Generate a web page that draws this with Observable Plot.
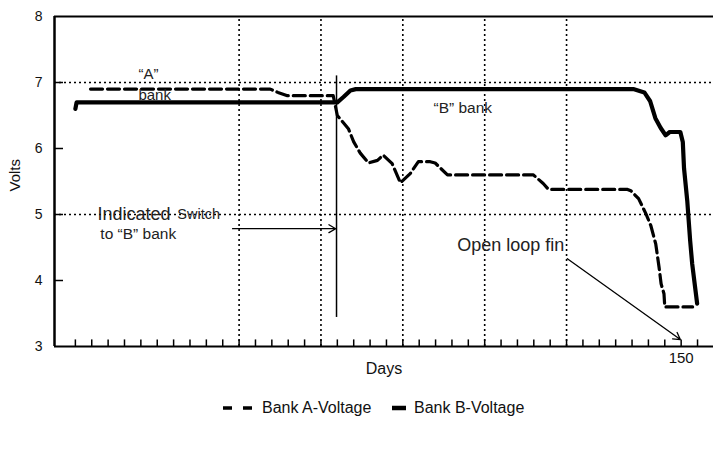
<!DOCTYPE html>
<html>
<head>
<meta charset="utf-8">
<script src="https://cdn.jsdelivr.net/npm/d3@7"></script>
<script src="https://cdn.jsdelivr.net/npm/@observablehq/plot@0.6"></script>
<style>
  html, body { margin: 0; padding: 0; background: #fff; }
  body { font-family: "Liberation Sans", Arial, sans-serif; width: 713px; }
  #legend { position: relative; height: 40px; font-size: 16px; color: #111; }
  .item { position: absolute; top: 14px; display: flex; align-items: center; }
  .item svg { margin-right: 8px; }
</style>
</head>
<body>
<div id="chart"></div>
<div id="legend">
  <div class="item" style="left:223px"><svg width="31" height="10"><line x1="0" y1="5" x2="31" y2="5" stroke="#000" stroke-width="3.5" stroke-dasharray="9,11"/></svg><span>Bank A-Voltage</span></div>
  <div class="item" style="left:392px"><svg width="14" height="10"><line x1="0" y1="5" x2="14" y2="5" stroke="#000" stroke-width="4.5"/></svg><span>Bank B-Voltage</span></div>
</div>
<script>
// Bank A (dashed) — days, volts
const daysA  = [5.7, 49.6, 51.5, 53.8, 65.0, 66.0, 68.7, 70.0, 71.6, 73.6, 75.8, 77.2, 79.4, 81.4, 83.8, 85.8, 88.7, 89.9, 92.9, 113.9, 116.3, 117.6, 136.9, 137.7, 139.6, 141.4, 142.6, 143.8, 144.6, 145.1, 145.8, 146.0, 152.8];
const voltsA = [6.9, 6.9, 6.85, 6.8, 6.8, 6.5, 6.3, 6.1, 5.93, 5.78, 5.82, 5.9, 5.77, 5.48, 5.62, 5.8, 5.8, 5.78, 5.6, 5.6, 5.47, 5.38, 5.38, 5.36, 5.24, 5.01, 4.83, 4.55, 4.2, 3.95, 3.8, 3.6, 3.6];
// Bank B (solid)
const daysB  = [2.0, 2.3, 66.0, 67.5, 69.2, 70.5, 138.3, 141.0, 142.4, 143.7, 145.0, 146.2, 147.2, 149.8, 150.4, 150.7, 151.5, 152.2, 152.7, 153.9];
const voltsB = [6.6, 6.7, 6.7, 6.78, 6.88, 6.9, 6.9, 6.85, 6.72, 6.46, 6.31, 6.2, 6.25, 6.25, 6.1, 5.7, 5.2, 4.6, 4.25, 3.65];

const xTicks = d3.range(2, 155, 4);      // minor day ticks
const xLabelled = [150];
const xGrid = [42, 62, 82, 102, 122];
const yTicks = [3, 4, 5, 6, 7, 8];
const yGrid = [5, 7];

// annotations (data coordinates)
const notes = [
  {text: "\u201CA\u201D", day: 17.4, volt: 7.13, size: 15},
  {text: "bank", day: 17.4, volt: 6.81, size: 15},
  {text: "\u201CB\u201D bank", day: 89.5, volt: 6.62, size: 15.5},
  {text: "Indicated", day: 7.4, volt: 5.01, size: 18},
  {text: "Switch", day: 26.9, volt: 5.0, size: 14.5},
  {text: "to \u201CB\u201D bank", day: 8.1, volt: 4.71, size: 15.5},
  {text: "Open loop fin", day: 95.3, volt: 4.53, size: 18}
];
const arrows = [
  {x1: 40.4, y1: 4.785, x2: 65.6, y2: 4.785},
  {x1: 122.2, y1: 4.33, x2: 149.8, y2: 3.105}
];
const switchDay = 65.8, switchTop = 7.1, switchBottom = 3.44;

const A = daysA.map((d, i) => ({day: d, volt: voltsA[i]}));
const B = daysB.map((d, i) => ({day: d, volt: voltsB[i]}));
const xDomain = [-3.1, 157.9];

const chart = Plot.plot({
  width: 713,
  height: 385,
  marginLeft: 54,
  marginRight: 0,
  marginTop: 16,
  marginBottom: 39,
  style: {fontFamily: "Liberation Sans, Arial, sans-serif", color: "#111", background: "#fff"},
  x: {domain: xDomain},
  y: {domain: [3, 8]},
  marks: [
    Plot.ruleY(yGrid, {stroke: "#000", strokeWidth: 1.6, strokeDasharray: "2,3"}),
    Plot.ruleX(xGrid, {y1: 3, y2: 8, stroke: "#000", strokeWidth: 1.6, strokeDasharray: "2,3"}),
    Plot.ruleX(xTicks, {y1: 3, y2: 3.1, stroke: "#000", strokeWidth: 1.5}),
    Plot.ruleY([4, 5, 6, 7], {x1: xDomain[0], x2: xDomain[0] + 2.2, stroke: "#000", strokeWidth: 1.5}),
    Plot.ruleY([3], {stroke: "#000", strokeWidth: 2}),
    Plot.ruleY([8], {stroke: "#000", strokeWidth: 2}),
    Plot.ruleX([xDomain[0]], {y1: 3, y2: 8, stroke: "#000", strokeWidth: 2.5}),
    Plot.axisX(xTicks, {tickSize: 0, tickPadding: 6, fontSize: 15, tickFormat: d => xLabelled.includes(d) ? String(d) : "", label: null}),
    Plot.axisY(yTicks, {tickSize: 0, tickPadding: 12, fontSize: 14, tickFormat: d => String(d), label: null}),
    Plot.text(["Volts"], {frameAnchor: "left", rotate: -90, dx: -39, dy: 10, fontSize: 15}),
    Plot.text(["Days"], {frameAnchor: "bottom", dy: 27, fontSize: 16}),
    Plot.line(A, {x: "day", y: "volt", stroke: "#000", strokeWidth: 3.2, strokeDasharray: "12,5"}),
    Plot.line(B, {x: "day", y: "volt", stroke: "#000", strokeWidth: 4.2}),
    Plot.ruleX([switchDay], {y1: switchBottom, y2: switchTop, stroke: "#000", strokeWidth: 1.5}),
    Plot.arrow(arrows, {x1: "x1", y1: "y1", x2: "x2", y2: "y2", stroke: "#000", strokeWidth: 1.3, headLength: 9}),
    Plot.text(notes, {x: "day", y: "volt", text: "text", textAnchor: "start", fontSize: d => d.size, fill: "#222"})
  ]
});
document.getElementById("chart").appendChild(chart);
</script>
</body>
</html>
